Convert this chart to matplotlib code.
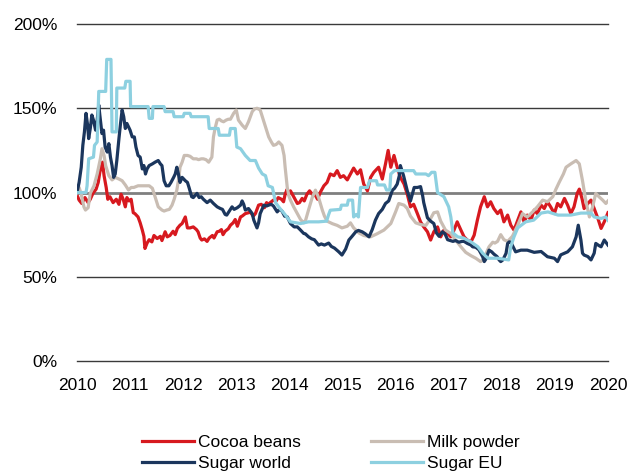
import matplotlib
matplotlib.use("Agg")
import matplotlib.pyplot as plt

plt.rcParams['font.family'] = ['Liberation Sans', 'DejaVu Sans']

# Index levels (%), time in years since start of 2010
cocoa_t = [0.00, 0.04, 0.09, 0.15, 0.21, 0.25, 0.30, 0.36, 0.40, 0.43, 0.48, 0.51, 0.55, 0.58, 0.62, 0.68,
           0.74, 0.79, 0.83, 0.87, 0.91, 0.94, 0.98, 1.02, 1.06, 1.09, 1.15, 1.19, 1.23, 1.26, 1.28, 1.32,
           1.36, 1.41, 1.45, 1.51, 1.57, 1.60, 1.66, 1.70, 1.75, 1.81, 1.85, 1.89, 1.94, 1.98, 2.04, 2.08,
           2.13, 2.19, 2.25, 2.28, 2.32, 2.35, 2.40, 2.45, 2.49, 2.55, 2.58, 2.64, 2.68, 2.72, 2.75, 2.79,
           2.85, 2.89, 2.94, 2.98, 3.02, 3.08, 3.11, 3.17, 3.23, 3.26, 3.32, 3.36, 3.42, 3.47, 3.53, 3.57,
           3.60, 3.66, 3.70, 3.75, 3.79, 3.85, 3.89, 3.92, 3.96, 3.98, 4.02, 4.08, 4.15, 4.19, 4.24, 4.28,
           4.33, 4.38, 4.43, 4.49, 4.53, 4.58, 4.65, 4.71, 4.77, 4.84, 4.90, 4.96, 5.02, 5.09, 5.15, 5.21,
           5.28, 5.34, 5.40, 5.47, 5.53, 5.59, 5.68, 5.75, 5.81, 5.86, 5.91, 5.97, 6.03, 6.09, 6.16, 6.22,
           6.28, 6.34, 6.41, 6.47, 6.53, 6.60, 6.66, 6.72, 6.79, 6.85, 6.91, 6.98, 7.04, 7.10, 7.16, 7.23,
           7.29, 7.35, 7.42, 7.48, 7.54, 7.60, 7.67, 7.73, 7.79, 7.85, 7.92, 7.98, 8.04, 8.11, 8.17, 8.23,
           8.30, 8.36, 8.42, 8.48, 8.55, 8.61, 8.67, 8.74, 8.80, 8.86, 8.92, 8.99, 9.05, 9.11, 9.18, 9.24,
           9.30, 9.36, 9.42, 9.46, 9.51, 9.55, 9.62, 9.68, 9.74, 9.81, 9.87, 9.93, 10.00]
cocoa_v = [98.5, 95.5, 93.5, 97, 94, 96, 99.5, 102, 106, 112, 118, 110, 103, 96, 97.5, 94,
           96, 93, 99, 96, 91.5, 97, 95, 96, 88, 87.5, 85.5, 82, 77.7, 74, 66.8, 70,
           72, 70.7, 74.5, 72.7, 74, 71.5, 76.7, 73.7, 74.5, 77, 75, 78.7, 80.6, 81.6, 85.5, 79,
           79, 79.6, 78, 76.7, 73, 71.8, 72.5, 71, 73, 74.5, 73, 76.7, 77, 78, 75, 77,
           78.5, 80.6, 82, 84, 80, 85.5, 86, 87.5, 88, 88.5, 86, 87.5, 92.5, 93, 91, 94,
           93, 94.5, 95.5, 95, 97, 96, 94.5, 99, 102, 99, 101, 97.5, 93.5, 94, 96.5, 95,
           99, 101, 99, 98.3, 96, 100, 104, 106, 111, 110, 113, 109, 110, 107.5, 111, 114.5,
           111, 113.5, 105, 101, 109, 112, 115, 108, 117, 125, 115, 122, 115, 109, 105, 99,
           91.5, 93, 87.5, 82.6, 79.6, 76.7, 71.8, 76.7, 79.6, 73.7, 77.7, 75.7, 73.7, 77.7, 82.6, 77.7,
           73.7, 71.8, 70.7, 74.7, 83.6, 91.5, 97.5, 91.5, 94.5, 90.5, 87.5, 89.6, 82.6, 86.6, 80.6, 77.7,
           83.6, 88.5, 82.6, 86.6, 83.6, 89.6, 87.5, 92.5, 90.5, 94.5, 91.5, 87.5, 93.5, 91.5, 96.5, 92.5,
           87.5, 91.5, 99.5, 102, 96.5, 90.5, 93.5, 95.5, 90.5, 84.6, 78.7, 82.6, 88]

milk_t = [0.00, 0.04, 0.08, 0.13, 0.16, 0.21, 0.25, 0.32, 0.38, 0.44, 0.47, 0.51, 0.54, 0.60, 0.66, 0.72,
          0.79, 0.85, 0.91, 0.97, 1.02, 1.07, 1.15, 1.23, 1.30, 1.36, 1.42, 1.47, 1.53, 1.60, 1.64, 1.69,
          1.74, 1.79, 1.83, 1.88, 1.92, 1.94, 1.98, 2.02, 2.08, 2.13, 2.19, 2.25, 2.29, 2.34, 2.38, 2.43,
          2.48, 2.54, 2.57, 2.60, 2.64, 2.68, 2.72, 2.76, 2.81, 2.85, 2.89, 2.95, 3.00, 3.04, 3.11, 3.17,
          3.23, 3.30, 3.34, 3.39, 3.45, 3.52, 3.57, 3.61, 3.66, 3.70, 3.75, 3.80, 3.86, 3.90, 3.92, 3.96,
          3.99, 4.02, 4.08, 4.15, 4.21, 4.27, 4.30, 4.36, 4.43, 4.49, 4.55, 4.62, 4.66, 4.71, 4.81, 4.90,
          4.99, 5.09, 5.15, 5.21, 5.31, 5.40, 5.53, 5.65, 5.78, 5.91, 6.00, 6.06, 6.16, 6.22, 6.28, 6.38,
          6.47, 6.57, 6.66, 6.72, 6.79, 6.85, 6.94, 7.04, 7.13, 7.23, 7.32, 7.42, 7.51, 7.60, 7.67, 7.72,
          7.76, 7.83, 7.87, 7.92, 7.98, 8.04, 8.11, 8.20, 8.30, 8.39, 8.48, 8.58, 8.67, 8.77, 8.86, 8.96,
          9.02, 9.08, 9.16, 9.21, 9.30, 9.40, 9.46, 9.52, 9.58, 9.65, 9.71, 9.77, 9.83, 9.90, 9.96, 10.00]
milk_v = [99.5, 103, 99, 91.5, 89.6, 91, 99.5, 104, 111, 120, 126, 122, 116, 110, 107.5, 109,
          108, 107, 104.5, 101.5, 103, 103, 104, 104, 104, 104, 102.5, 97.5, 91.5, 89.6, 89, 89.6,
          90, 92.5, 96, 101.4, 109, 115, 118, 122, 122, 121.5, 120, 120, 119.5, 120, 120, 119.5,
          118, 121, 133, 138, 143, 143.5, 142.5, 142, 143, 143.5, 143.5, 147, 149, 143, 140, 138,
          142, 148, 149.5, 150, 149, 142, 137, 133, 130, 128, 128.5, 130, 128, 122, 115, 103,
          98, 95.5, 91.5, 87.5, 84, 82, 83, 89.6, 97, 101.4, 97, 89.6, 86, 83, 81.5, 80.5,
          79, 80, 82, 79, 76, 74.5, 73.7, 75.5, 77.7, 81.6, 88.5, 93.5, 92.5, 90.5, 86, 82,
          81, 80.5, 84.6, 88, 88.5, 83, 77.7, 75.7, 71.8, 67.8, 64.5, 62.5, 61, 59, 60.5, 65,
          67.8, 70.5, 70, 71, 75, 72, 71, 74, 80.6, 87.5, 85.5, 88.5, 91.5, 95.5, 94.5, 97.5,
          102, 106, 111, 115, 117, 119, 117, 107, 95.5, 85.5, 91.5, 99.5, 97.5, 95.5, 93.5, 95]

sugar_world_t = [0.00, 0.04, 0.08, 0.11, 0.14, 0.17, 0.20, 0.22, 0.25, 0.28, 0.31, 0.35, 0.38, 0.41, 0.43, 0.47,
                 0.50, 0.53, 0.57, 0.60, 0.63, 0.66, 0.69, 0.72, 0.75, 0.79, 0.82, 0.85, 0.88, 0.91, 0.94, 1.00,
                 1.04, 1.08, 1.11, 1.15, 1.19, 1.23, 1.26, 1.29, 1.32, 1.36, 1.42, 1.47, 1.53, 1.57, 1.60, 1.64,
                 1.68, 1.73, 1.77, 1.82, 1.85, 1.88, 1.91, 1.94, 1.98, 2.04, 2.08, 2.11, 2.16, 2.19, 2.26, 2.30,
                 2.34, 2.38, 2.45, 2.51, 2.57, 2.64, 2.70, 2.74, 2.79, 2.82, 2.87, 2.92, 2.96, 3.02, 3.08, 3.11,
                 3.14, 3.17, 3.23, 3.30, 3.33, 3.39, 3.42, 3.45, 3.52, 3.57, 3.61, 3.66, 3.70, 3.77, 3.81, 3.86,
                 3.91, 3.96, 4.02, 4.06, 4.09, 4.15, 4.21, 4.27, 4.30, 4.36, 4.42, 4.47, 4.55, 4.60, 4.66, 4.74,
                 4.79, 4.85, 4.93, 4.99, 5.06, 5.12, 5.18, 5.25, 5.30, 5.37, 5.43, 5.50, 5.56, 5.62, 5.68, 5.75,
                 5.81, 5.87, 5.94, 5.98, 6.03, 6.07, 6.09, 6.15, 6.22, 6.28, 6.35, 6.41, 6.47, 6.51, 6.53, 6.57,
                 6.60, 6.66, 6.72, 6.77, 6.82, 6.88, 6.93, 6.98, 7.08, 7.13, 7.19, 7.25, 7.29, 7.35, 7.42, 7.45,
                 7.51, 7.57, 7.64, 7.67, 7.70, 7.76, 7.81, 7.85, 7.91, 7.95, 7.98, 8.02, 8.08, 8.11, 8.14, 8.17,
                 8.21, 8.26, 8.36, 8.48, 8.61, 8.74, 8.86, 8.99, 9.05, 9.11, 9.24, 9.33, 9.40, 9.44, 9.49, 9.52,
                 9.55, 9.62, 9.68, 9.74, 9.77, 9.83, 9.87, 9.93, 10.00]
sugar_world_v = [100, 106, 115, 128, 136, 147, 140, 132, 138, 146, 143, 137, 143, 152, 146, 135,
                 137, 127, 124, 129, 121, 116, 109, 111, 119, 132, 141, 149, 145, 138, 141, 137,
                 133, 133, 127, 122, 121, 114, 116, 111, 114, 116, 117, 118, 119, 117, 116, 107,
                 104, 104, 106, 109, 111, 115, 111, 106, 109, 107, 106, 103, 97.5, 97, 99.5, 97,
                 97.5, 96, 94, 95.5, 93.5, 91.5, 90.5, 90, 87, 86.6, 89, 91.5, 90, 91, 92.5, 95,
                 93, 89.6, 90.5, 87.5, 83.6, 79, 82, 87.5, 92.5, 92, 92.5, 93, 92, 88.5, 90, 89,
                 86, 85.5, 81.6, 80.5, 79.6, 79.6, 77.7, 75.7, 75.5, 73.7, 72.5, 72, 68.8, 69.5, 68.8, 70,
                 68, 67, 64.8, 62.9, 66.5, 71.8, 74, 76.7, 77.5, 76.7, 75.5, 73.7, 78, 83.6, 87.5, 90,
                 93.5, 95, 101.4, 102.5, 105, 110, 116, 110, 101, 95, 103, 103, 103.5, 98, 94, 89,
                 85, 83, 81.6, 76, 74, 76.7, 75.5, 72, 71, 71.5, 70.5, 71, 71, 69.8, 68.8, 67.8,
                 67.5, 66, 61.9, 59, 60.5, 65.8, 64.8, 63.5, 62, 60, 59, 60, 63.9, 69.8, 70.7, 70.5,
                 68, 64.8, 65.8, 65.8, 64.5, 65, 61.9, 61, 59, 63, 64.8, 67.8, 73.7, 80.6, 71.8, 64,
                 62.9, 62, 60, 64, 69.8, 68.5, 67.8, 71.8, 68.8]

sugar_eu_t = [0.00, 0.17, 0.19, 0.22, 0.31, 0.33, 0.38, 0.41, 0.54, 0.56, 0.64, 0.66, 0.74, 0.75, 0.90, 0.92,
              1.00, 1.01, 1.34, 1.36, 1.42, 1.43, 1.64, 1.66, 1.81, 1.83, 2.00, 2.02, 2.13, 2.15, 2.47, 2.49,
              2.66, 2.68, 2.87, 2.89, 2.98, 3.01, 3.08, 3.17, 3.26, 3.36, 3.42, 3.49, 3.55, 3.60, 3.68, 3.74,
              3.81, 3.89, 3.94, 4.02, 4.21, 4.36, 4.55, 4.70, 4.74, 4.77, 4.96, 4.98, 5.09, 5.11, 5.19, 5.21,
              5.26, 5.30, 5.34, 5.47, 5.51, 5.64, 5.66, 5.79, 5.83, 5.89, 5.91, 5.98, 6.34, 6.38, 6.57, 6.62,
              6.68, 6.74, 6.79, 6.91, 7.00, 7.04, 7.08, 7.17, 7.28, 7.42, 7.55, 7.64, 7.74, 7.92, 8.13, 8.17,
              8.23, 8.30, 8.45, 8.60, 8.74, 8.87, 9.06, 9.30, 9.49, 9.68, 9.74, 9.87, 9.96, 10.00]
sugar_eu_v = [100, 100, 104, 120, 121, 128, 130, 160, 160, 179, 179, 136, 136, 162, 162, 166,
              166, 151, 151, 144, 144, 151, 151, 148, 148, 145, 145, 147, 147, 145, 145, 138,
              138, 134, 134, 138, 138, 127, 126, 122, 119, 119, 114.5, 111, 110, 104, 103, 94,
              91, 88, 86, 82.6, 81.6, 82.6, 82.6, 83, 87, 89.5, 90, 92.5, 92.5, 95.5, 95.5, 85.5,
              87, 85.5, 103, 103, 107, 107, 104.5, 104.5, 101.5, 101.5, 111, 113, 113, 111, 111, 110,
              112, 112, 100, 97.5, 91.5, 85.5, 76, 73.7, 73, 70.7, 67.8, 64, 61, 61, 60, 68,
              73.7, 79, 82.6, 83.6, 87.8, 88.5, 86.6, 86.6, 87.8, 87.8, 85.5, 84.6, 85.5, 83.5]

series_names = ['Cocoa beans', 'Milk powder', 'Sugar world', 'Sugar EU']
series_colors = ['#D7191F', '#C9BDB3', '#1B365D', '#8DD0E0']

fig = plt.figure(figsize=(6.29, 4.71), dpi=100)
ax = fig.add_axes([0.1224, 0.2335, 0.8442, 0.7155])

# horizontal grid, 100% line in grey
for lvl in [50, 150, 200]:
    ax.axhline(lvl, color='#3a3a3a', lw=1.0, zorder=1, clip_on=False)
ax.axhline(100, color='#7f7f7f', lw=2.0, zorder=1)
ax.axhline(0, color='#3a3a3a', lw=1.0, zorder=1, clip_on=False)

handles = {}
for name, col, t, v in zip(series_names, series_colors,
                           [cocoa_t, milk_t, sugar_world_t, sugar_eu_t],
                           [cocoa_v, milk_v, sugar_world_v, sugar_eu_v]):
    years = [2010 + x for x in t]
    ln, = ax.plot(years, v, color=col, lw=2.3, label=name, zorder=3)
    handles[name] = ln

ax.set_xlim(2010, 2020)
ax.set_ylim(0, 200)
ax.set_xticks(range(2010, 2021))
ax.set_yticks([0, 50, 100, 150, 200])
ax.set_yticklabels([f'{v}%' for v in [0, 50, 100, 150, 200]])
for s in ax.spines.values():
    s.set_visible(False)
ax.tick_params(axis='both', length=0, labelsize=12.5, colors='black')
ax.tick_params(axis='y', pad=14)
ax.tick_params(axis='x', pad=12)

order = ['Cocoa beans', 'Sugar world', 'Milk powder', 'Sugar EU']
fig.legend([handles[n] for n in order], order, loc='upper left',
           bbox_to_anchor=(0.2257, 0.0764), ncol=2, frameon=False, fontsize=12.5,
           handlelength=3.0, handletextpad=0.25, columnspacing=4.0,
           labelspacing=0.32, borderaxespad=0, borderpad=0)

fig.savefig('out.png', dpi=100)
